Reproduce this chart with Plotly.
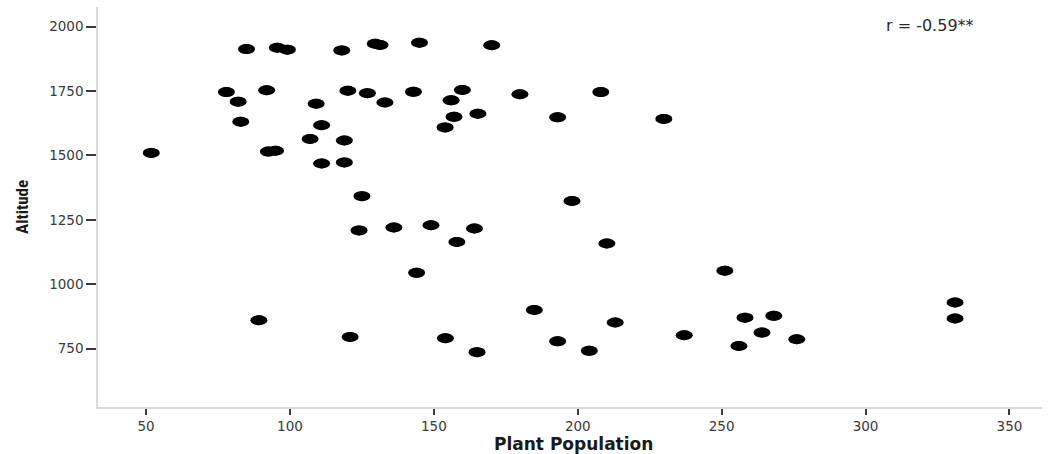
import plotly.graph_objects as go

# Plant population vs altitude of the sampled sites
plant_population = [
    84.9, 95.6, 99.1, 118.0, 129.6, 131.3, 145.0, 170.1,
    77.9, 91.9, 82.0, 82.9, 51.8, 92.5, 95.0,
    120.1, 126.9, 109.1, 133.0, 142.9, 159.9, 156.0, 157.0, 165.3, 153.9,
    111.0, 107.0, 118.9, 111.0, 118.9, 125.0,
    179.9, 208.0, 193.0, 229.9, 198.0,
    124.0, 136.1, 149.0, 164.1, 158.0, 144.0,
    120.9, 154.0, 165.0, 89.2,
    210.1, 184.9, 213.0, 193.0, 204.0, 237.0,
    251.1, 258.1, 268.1, 264.0, 256.0, 276.1, 331.1, 331.1,
]
altitude = [
    1913, 1918, 1911, 1908, 1934, 1929, 1938, 1928,
    1746, 1753, 1709, 1631, 1510, 1515, 1518,
    1751, 1742, 1701, 1706, 1747, 1754, 1714, 1650, 1662, 1609,
    1617, 1564, 1558, 1469, 1473, 1342,
    1738, 1746, 1648, 1642, 1323,
    1209, 1220, 1229, 1216, 1164, 1044,
    795, 790, 736, 860,
    1158, 900, 851, 778, 741, 802,
    1052, 870, 877, 812, 760, 786, 929, 867,
]

x_ticks = [50, 100, 150, 200, 250, 300, 350]
y_ticks = [750, 1000, 1250, 1500, 1750, 2000]
r_label = "r = -0.59**"

tick_font = dict(family="DejaVu Sans", size=13.5, color="#3a3a3a")
axis_color = "#d9d9d9"

fig = go.Figure()
fig.add_trace(go.Scatter(
    x=plant_population,
    y=altitude,
    mode="markers",
    marker=dict(size=10, color="black", line=dict(width=0)),
    hovertemplate="Plant Population: %{x}<br>Altitude: %{y}<extra></extra>",
    showlegend=False,
))

# Flattened elliptical dots, anchored on each data point
shapes = []
for px, py in zip(plant_population, altitude):
    shapes.append(dict(
        type="circle", xref="x", yref="y",
        xsizemode="pixel", ysizemode="pixel",
        xanchor=px, yanchor=py,
        x0=-8.5, x1=8.5, y0=-5, y1=5,
        fillcolor="black", line=dict(width=0), layer="above",
    ))

fig.update_layout(
    width=1052, height=454,
    margin=dict(l=98, r=10, t=7, b=47),
    paper_bgcolor="white", plot_bgcolor="white",
    shapes=shapes,
    xaxis=dict(
        range=[33.3, 361.3], tickvals=x_ticks, ticktext=[str(v) for v in x_ticks],
        showgrid=False, zeroline=False,
        showline=True, linecolor=axis_color, linewidth=1.5,
        ticks="outside", ticklen=6, tickwidth=1.5, tickcolor="#3a3a3a",
        tickfont=tick_font,
    ),
    yaxis=dict(
        range=[523, 2076.6], tickvals=y_ticks, ticktext=[str(v) for v in y_ticks],
        showgrid=False, zeroline=False,
        showline=True, linecolor=axis_color, linewidth=1.5,
        ticks="outside", ticklen=10, tickwidth=1.5, tickcolor="#3a3a3a",
        tickfont=tick_font,
    ),
    annotations=[
        dict(text="<b>Plant Population</b>", xref="paper", yref="paper",
             x=0.5, y=0, xanchor="center", yanchor="middle", yshift=-37,
             xshift=3, showarrow=False,
             font=dict(family="DejaVu Sans", size=17, color="#1a1a1a")),
        dict(text="<b>Altitude</b>", xref="paper", yref="paper",
             x=0, y=0.5, xanchor="center", yanchor="middle", xshift=-76,
             textangle=-90, showarrow=False,
             font=dict(family="Liberation Sans Narrow, Roboto Condensed, Liberation Sans",
                       size=17, color="#1a1a1a")),
        dict(text=r_label, xref="x", yref="y", x=322.4, y=2006.6,
             xanchor="center", yanchor="middle", showarrow=False,
             font=dict(family="DejaVu Sans", size=16, color="#2a2a2a")),
    ],
)

fig.write_html("out.html")
